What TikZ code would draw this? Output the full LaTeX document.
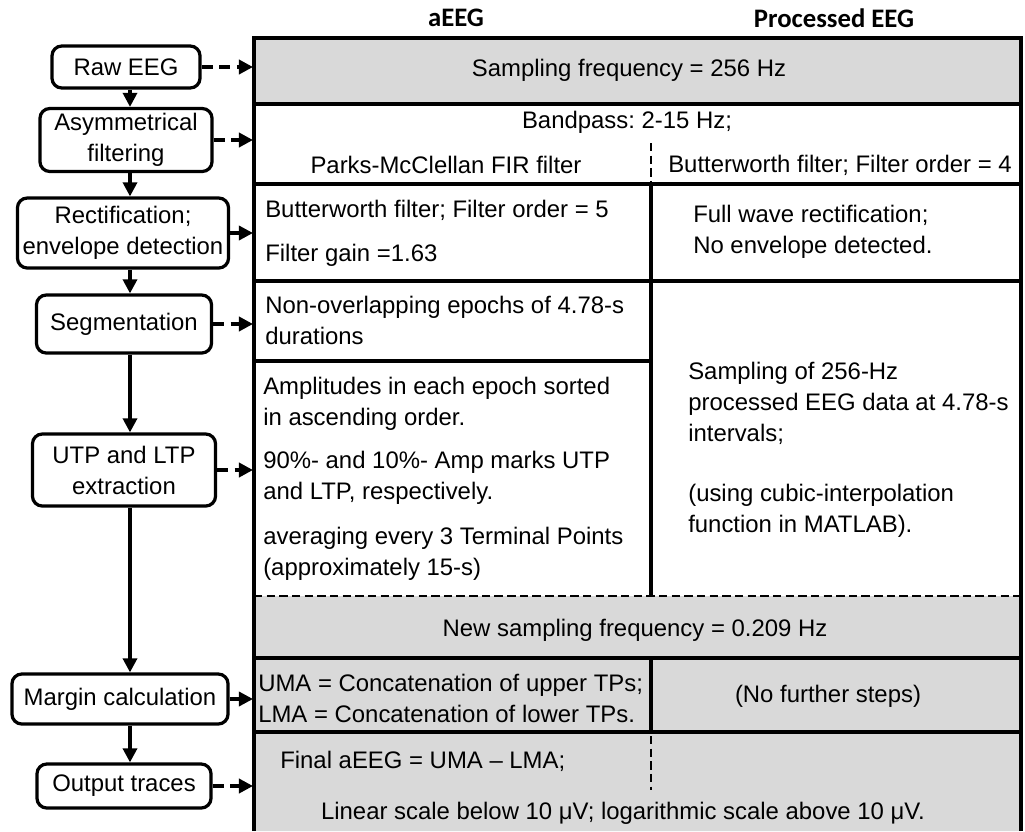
\documentclass[tikz,border=0pt]{standalone}
\usepackage{fontspec}
\setmainfont{Liberation Sans}
\newfontfamily\headfont{Carlito}
\usetikzlibrary{arrows.meta,positioning}
\definecolor{cellgray}{HTML}{D9D9D9}
\frenchspacing
\tikzset{
  stepbox/.style={draw, line width=2.3pt, rounded corners=7pt, align=center, inner sep=1pt},
  flow/.style={line width=2.3pt, -{Triangle[length=10pt,width=10pt]}},
  flowdash/.style={flow, line width=3pt, dash pattern=on 8pt off 4.5pt},
  cell/.style={align=left, inner sep=0pt, anchor=west},
  colhead/.style={font=\headfont\bfseries\fontsize{19}{22}\selectfont},
}
\begin{document}
\begin{tikzpicture}[x=0.025cm, y=-0.025cm, font=\fontsize{17}{22}\selectfont]
  \useasboundingbox (0,0) rectangle (1025,831);
  \coordinate (spine) at (130,0);
  \coordinate (tbl) at (253,0);
  % shaded rows
  \fill[cellgray] (254,38) rectangle (1021,104) (254,596) rectangle (1021,831);
  % outline
  \draw[line width=2.6pt] (254,831) -- (254,38) -- (1021,38) -- (1021,831)
        (254,104) -- (1021,104) (254,184) -- (1021,184) (254,281) -- (1021,281)
        (254,361) -- (651,361) (254,658) -- (1021,658) (254,732) -- (1021,732)
        (651,184) -- (651,596) (651,658) -- (651,732);
  \draw[line width=2pt, dash pattern=on 6pt off 3pt]
        (254,596) -- (1021,596) (651,143) -- (651,184) (651,736) -- (651,790);
  % column heads
  \node[colhead] (hdA) at (456,18) {aEEG};
  \node[colhead] (hdP) at (834,18) {Processed EEG};
  % table text
  \node (fs) at (629,70) {Sampling frequency = 256 Hz};
  \node (bp) at (627,122) {Bandpass: 2-15 Hz;};
  \node (pm) at (446,165) {Parks-McClellan FIR filter};
  \node (bw4) at (840,165) {Butterworth filter; Filter order = 4};
  \node[cell] (bw5) at (265,210) {Butterworth filter; Filter order = 5};
  \node[cell] (gain) at (265,255) {Filter gain =1.63};
  \node[cell] (fwr) at (693,232) {Full wave rectification;\\No envelope detected.};
  \node[cell] (epo) at (265,320) {Non-overlapping epochs of 4.78-s\\durations};
  \node[cell] (amp) at (263,404) {Amplitudes in each epoch sorted\\in ascending order.};
  \node[cell] (pct) at (263,478) {90\%- and 10\%- Amp marks UTP\\and LTP, respectively.};
  \node[cell] (avg) at (263,554) {averaging every 3 Terminal Points\\(approximately 15-s)};
  \node[cell] (smp) at (688,450) {Sampling of 256-Hz\\processed EEG data at 4.78-s\\intervals;\\[21pt](using cubic-interpolation\\function in MATLAB).};
  \node (nfs) at (635,630) {New sampling frequency = 0.209 Hz};
  \node[cell] (uma) at (258,698) {UMA = Concatenation of upper TPs;\\LMA = Concatenation of lower TPs.};
  \node (nfo) at (828,696) {(No further steps)};
  \node[cell] (fin) at (280,761) {Final aEEG = UMA – LMA;};
  \node (lin) at (623,813) {Linear scale below 10 μV; logarithmic scale above 10 μV.};
  % processing steps
  \node[stepbox, minimum width=3.7cm, minimum height=1.05cm] (raw) at (126,67) {Raw EEG};
  \node[stepbox, minimum width=4.3cm, minimum height=1.575cm] (asym) at (126,140) {Asymmetrical\\filtering};
  \node[stepbox, minimum width=5.275cm, minimum height=1.75cm] (rect) at (123,233) {Rectification;\\envelope detection};
  \node[stepbox, minimum width=4.375cm, minimum height=1.45cm] (seg) at (124,324) {Segmentation};
  \node[stepbox, minimum width=4.575cm, minimum height=1.8cm] (utp) at (124,470) {UTP and LTP\\extraction};
  \node[stepbox, minimum width=5.4cm, minimum height=1.25cm] (marg) at (120,699) {Margin calculation};
  \node[stepbox, minimum width=4.35cm, minimum height=1.1cm] (out) at (124,786) {Output traces};
  % flow down
  \foreach \a/\b in {raw/asym, asym/rect, rect/seg, seg/utp, utp/marg, marg/out}
    \draw[flow] (\a.south -| spine) -- (\b.north -| spine);
  % links to the table
  \foreach \a in {raw, asym, seg, utp, out}
    \draw[flowdash] (\a.east) -- (\a.east -| tbl);
  \foreach \a in {rect, marg}
    \draw[flow] (\a.east) -- (\a.east -| tbl);
\end{tikzpicture}
\end{document}
